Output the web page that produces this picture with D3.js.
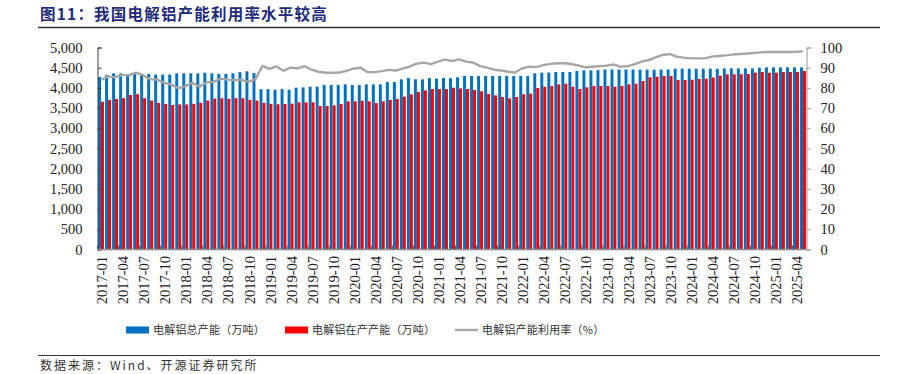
<!DOCTYPE html>
<html><head><meta charset="utf-8">
<script src="https://cdn.jsdelivr.net/npm/d3@7"></script>
<style>
body{margin:0;background:#fff;}
svg{display:block;}
</style></head>
<body>
<svg id="chart" width="910" height="374"></svg>
<script>
// ---------- DATA ----------
const startYear = 2017, startMonth = 1, monthCount = 101; // 2017-01 .. 2025-05
const months = d3.range(monthCount).map(i => {
  const m = (startMonth - 1 + i) % 12 + 1;
  const y = startYear + Math.floor((startMonth - 1 + i) / 12);
  return y + "-" + String(m).padStart(2, "0");
});
// 电解铝总产能（万吨）
const totalCapacity = [
 4270,4320,4360,4360,4340,4360,4330,4345,4330,4330,4330,4360,
 4360,4360,4360,4375,4360,4345,4345,4360,4390,4410,4370,3970,
 3970,3955,3970,3955,4005,4013,4030,4030,4071,4071,4071,4088,
 4071,4071,4088,4088,4088,4146,4146,4212,4245,4212,4212,4245,
 4228,4245,4240,4262,4294,4294,4294,4294,4294,4294,4294,4294,
 4294,4294,4360,4377,4380,4394,4394,4394,4418,4435,4435,4440,
 4455,4455,4455,4455,4455,4450,4450,4450,4452,4455,4475,4475,
 4475,4475,4475,4475,4475,4484,4484,4484,4484,4484,4500,4509,
 4509,4509,4509,4509,4509
];
// 电解铝在产产能（万吨）
const operatingCapacity = [
 3658,3700,3725,3745,3823,3845,3745,3687,3628,3605,3576,3590,
 3590,3605,3628,3687,3735,3745,3730,3745,3745,3700,3687,3628,
 3605,3593,3601,3610,3643,3643,3643,3551,3551,3568,3601,3668,
 3668,3684,3668,3626,3668,3700,3725,3783,3840,3898,3939,3972,
 3972,3972,4005,3989,3972,3948,3914,3848,3815,3774,3741,3774,
 3840,3857,3997,4030,4047,4088,4104,4030,3972,4013,4047,4047,
 4047,4030,4047,4088,4104,4170,4261,4278,4294,4294,4195,4195,
 4203,4220,4228,4261,4302,4336,4336,4336,4344,4377,4393,4377,
 4377,4393,4393,4393,4418
];
// 电解铝产能利用率（%）
const utilization = [
 83.9,85.7,85.3,86.3,86.3,87.5,86.3,84.3,84.1,82.5,81.7,79.8,
 80.9,82.5,80.6,82.7,83.0,84.6,84.1,83.9,83.9,83.0,84.3,90.9,
 89.4,90.6,88.5,90.0,89.7,90.8,89.0,88.0,87.5,87.5,87.6,88.5,
 89.6,90.0,87.8,87.8,88.3,88.9,88.6,89.5,90.6,92.0,92.5,91.8,
 93.0,94.0,93.3,94.1,93.0,92.6,90.8,90.0,89.0,88.6,88.0,87.6,
 89.7,90.5,90.3,91.3,91.9,92.2,92.2,91.8,91.1,90.2,90.5,90.8,
 91.0,91.6,90.4,90.8,91.7,93.0,93.8,95.1,96.3,96.8,95.5,95.0,
 94.6,94.6,94.6,95.5,95.8,96.1,96.5,96.8,97.0,97.3,97.6,97.8,
 97.8,97.8,97.8,97.9,98.1
];
const leftTicks = d3.range(0, 5001, 500);
const rightTicks = d3.range(0, 101, 10);
const seriesNames = ["电解铝总产能（万吨）", "电解铝在产产能（万吨）", "电解铝产能利用率（%）"];
const titleText = "图11：我国电解铝产能利用率水平较高";
const sourceText = "数据来源：Wind、开源证券研究所";

// ---------- LAYOUT ----------
const svg = d3.select("#chart");
const L = 97.5, R = 806.5, T = 47.5, B = 249.5;
const colors = {blue: "#0070C0", red: "#FF0000", line: "#A6A6A6"};
const serif = "'Liberation Serif','Times New Roman',serif";
const cjk = "'Noto Sans CJK SC','Noto Sans',sans-serif";

const x = d3.scaleBand().domain(d3.range(monthCount)).range([L, R]).paddingInner(0.16).paddingOuter(0.08);
const xs = d3.scaleBand().domain(["total", "op"]).range([0, x.bandwidth()]).padding(0);
const yL = d3.scaleLinear().domain([0, 5000]).range([B, T]);
const yR = d3.scaleLinear().domain([0, 100]).range([B, T]);

// Title
svg.append("text").attr("x", 40).attr("y", 20)
  .attr("font-family", cjk).attr("font-weight", "bold").attr("font-size", 15.5)
  .attr("letter-spacing", 1.2)
  .attr("fill", "#1f2b78").text(titleText);
svg.append("line").attr("x1", 38).attr("x2", 880).attr("y1", 27.5).attr("y2", 27.5)
  .attr("stroke", "#333").attr("stroke-width", 1.3);

// Bars
const g = svg.append("g");
g.selectAll("rect.total").data(totalCapacity).join("rect").attr("class", "total")
  .attr("x", (d, i) => x(i) + xs("total")).attr("width", xs.bandwidth())
  .attr("y", d => yL(d)).attr("height", d => B - yL(d)).attr("fill", colors.blue);
g.selectAll("rect.op").data(operatingCapacity).join("rect").attr("class", "op")
  .attr("x", (d, i) => x(i) + xs("op")).attr("width", xs.bandwidth())
  .attr("y", d => yL(d)).attr("height", d => B - yL(d)).attr("fill", colors.red);

// Line
const line = d3.line().x((d, i) => x(i) + x.bandwidth() / 2).y(d => yR(d));
svg.append("path").datum(utilization).attr("d", line)
  .attr("fill", "none").attr("stroke", colors.line).attr("stroke-width", 2.4)
  .attr("stroke-linejoin", "round");

// Left axis
const axL = svg.append("g").attr("transform", `translate(${L},0)`)
  .call(d3.axisLeft(yL).tickValues(leftTicks).tickFormat(d3.format(",")).tickSize(-4).tickPadding(15));
axL.select(".domain").attr("stroke", "#404040");
axL.selectAll(".tick line").attr("stroke", "#404040");
axL.selectAll("text").attr("font-family", serif).attr("font-size", 14.5).attr("fill", "#222");

// Right axis
const axR = svg.append("g").attr("transform", `translate(${R},0)`)
  .call(d3.axisRight(yR).tickValues(rightTicks).tickSize(4).tickPadding(10));
axR.select(".domain").attr("stroke", "#999");
axR.selectAll(".tick line").attr("stroke", "#999");
axR.selectAll("text").attr("font-family", serif).attr("font-size", 14.5).attr("fill", "#222");

// Bottom axis
svg.append("line").attr("x1", L).attr("x2", R).attr("y1", B).attr("y2", B)
  .attr("stroke", "#8c8c8c").attr("stroke-width", 1.5);
const labelIdx = d3.range(0, monthCount, 3);
svg.append("g").selectAll("line").data(labelIdx).join("line")
  .attr("x1", i => x(i) - x.step() * x.paddingInner() / 2).attr("x2", i => x(i) - x.step() * x.paddingInner() / 2)
  .attr("y1", B - 4).attr("y2", B).attr("stroke", "#555").attr("stroke-width", 1);
svg.append("g").selectAll("text").data(labelIdx).join("text")
  .attr("transform", i => `translate(${x(i) + x.bandwidth() / 2 + 1},256) rotate(-90)`)
  .attr("text-anchor", "end").attr("dy", "0.35em")
  .attr("font-family", serif).attr("font-size", 14.5).attr("fill", "#222")
  .text(i => months[i]);

// Legend
const lg = svg.append("g");
const legFont = 11, legSpacing = 0.2;
lg.append("rect").attr("x", 126).attr("y", 326.5).attr("width", 23).attr("height", 7).attr("fill", colors.blue);
lg.append("text").attr("x", 153).attr("y", 334).attr("font-family", cjk).attr("font-size", legFont).attr("letter-spacing", legSpacing).attr("fill", "#333").text(seriesNames[0]);
lg.append("rect").attr("x", 285).attr("y", 326.5).attr("width", 23).attr("height", 7).attr("fill", colors.red);
lg.append("text").attr("x", 312).attr("y", 334).attr("font-family", cjk).attr("font-size", legFont).attr("letter-spacing", legSpacing).attr("fill", "#333").text(seriesNames[1]);
lg.append("line").attr("x1", 455).attr("x2", 478).attr("y1", 330).attr("y2", 330).attr("stroke", colors.line).attr("stroke-width", 2.4);
lg.append("text").attr("x", 482).attr("y", 334).attr("font-family", cjk).attr("font-size", legFont).attr("letter-spacing", legSpacing).attr("fill", "#333").text(seriesNames[2]);

// Footer
svg.append("line").attr("x1", 38).attr("x2", 880).attr("y1", 355.5).attr("y2", 355.5)
  .attr("stroke", "#333").attr("stroke-width", 1.2);
svg.append("text").attr("x", 40).attr("y", 370).attr("font-family", cjk).attr("font-size", 12)
  .attr("letter-spacing", 2).attr("fill", "#333").text(sourceText);
</script>
</body></html>
